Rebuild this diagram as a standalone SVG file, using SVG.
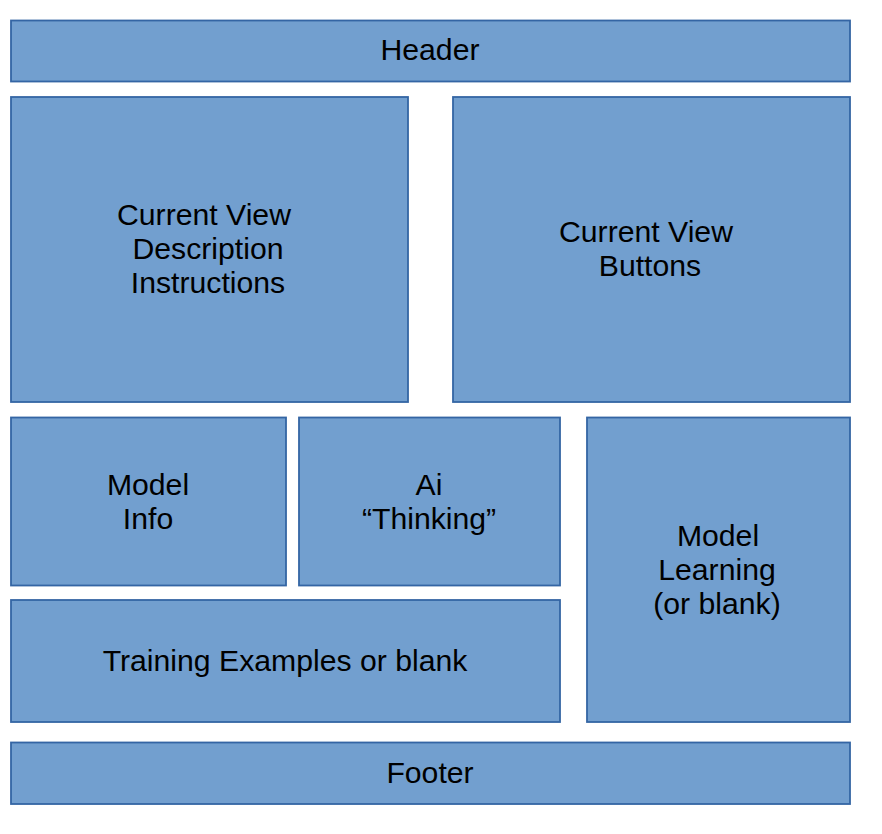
<svg xmlns="http://www.w3.org/2000/svg" width="882" height="834" viewBox="0 0 882 834">
<style>
.box{fill:#729fcf;stroke:#3465a4;stroke-width:1.8}
text{font-family:"Liberation Sans",Arial,sans-serif;font-size:30.2px;fill:#000;text-anchor:middle}
</style>
<rect width="882" height="834" fill="#fff"/>
<g id="header"><rect class="box" x="11" y="20.5" width="839" height="61"/><text x="430" y="60">Header</text></g>
<g id="description"><rect class="box" x="11" y="97" width="397" height="305"/><text x="204" y="224.5">Current View</text><text x="208" y="258.5">Description</text><text x="208" y="292.5">Instructions</text></g>
<g id="buttons"><rect class="box" x="453" y="97" width="397" height="305"/><text x="646" y="241.5">Current View</text><text x="650" y="275.5">Buttons</text></g>
<g id="model-info"><rect class="box" x="11" y="417.5" width="275" height="168"/><text x="148" y="494.5">Model</text><text x="148" y="528.5">Info</text></g>
<g id="ai-thinking"><rect class="box" x="299" y="417.5" width="261" height="168"/><text x="429" y="494.5">Ai</text><text x="429" y="528.5">“Thinking”</text></g>
<g id="model-learning"><rect class="box" x="587" y="417.5" width="263" height="304.5"/><text x="718" y="545.5">Model</text><text x="717" y="579.5">Learning</text><text x="717" y="613.5">(or blank)</text></g>
<g id="training"><rect class="box" x="11" y="600" width="549" height="122"/><text x="285" y="670.5">Training Examples or blank</text></g>
<g id="footer"><rect class="box" x="11" y="742.5" width="839" height="61.5"/><text x="430" y="782.5">Footer</text></g>
<g id="connectors"></g>
</svg>
